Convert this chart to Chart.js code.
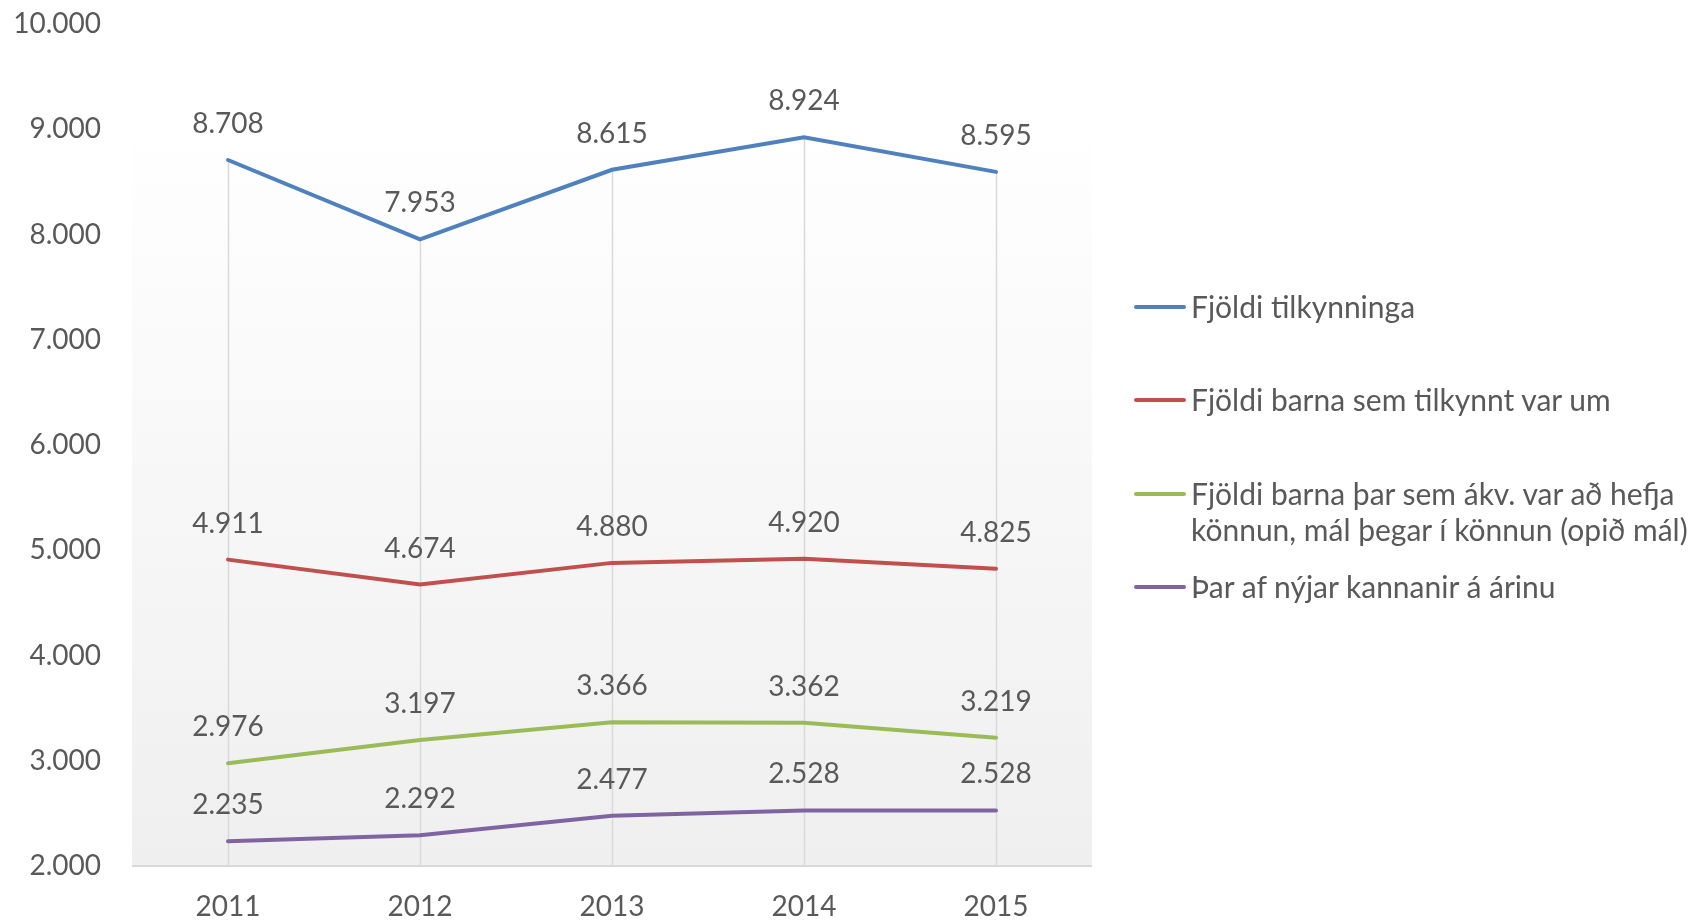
<!DOCTYPE html>
<html>
<head>
<meta charset="utf-8">
<script src="https://cdn.jsdelivr.net/npm/chart.js@4.4.0/dist/chart.umd.min.js"></script>
<style>
    html, body { margin: 0; padding: 0; background: #fff; }
    #wrap { position: relative; width: 1698px; height: 920px; }
    #myChart { position: absolute; left: 0; top: 0; }
    #legend { position: absolute; left: 1134px; top: 0; font-family: Lato, sans-serif; font-size: 30px; color: #595959; }
    .item { position: absolute; left: 0; white-space: nowrap; line-height: 36px; }
    .item span.swatch { position: absolute; left: 0; width: 52px; height: 4px; border-radius: 2px; }
    .item div { position: absolute; left: 57px; }
</style>
</head>
<body>
<div id="wrap">
    <canvas id="myChart" width="1698" height="920"></canvas>
    <div id="legend"></div>
</div>
<script>
    const years = ['2011', '2012', '2013', '2014', '2015'];

    const tilkynningar = [8708, 7953, 8615, 8924, 8595];
    const bornTilkynnt = [4911, 4674, 4880, 4920, 4825];
    const bornKonnun = [2976, 3197, 3366, 3362, 3219];
    const nyjarKannanir = [2235, 2292, 2477, 2528, 2528];

    const seriesNames = [
        'Fjöldi tilkynninga',
        'Fjöldi barna sem tilkynnt var um',
        'Fjöldi barna þar sem ákv. var að hefja\nkönnun, mál þegar í könnun (opið mál)',
        'Þar af nýjar kannanir á árinu'
    ];
    const seriesColors = ['#4F81BD', '#C0504D', '#9BBB59', '#8064A2'];
    const legendTops = [288, 381, 475, 568];

    const yMin = 2000, yMax = 10000, yStep = 1000;

    function fmt(v) {
        return v.toLocaleString('de-DE');
    }

    // plot area background + drop lines
    const plotBg = {
        id: 'plotBg',
        beforeDatasetsDraw: function (chart) {
            const ctx = chart.ctx;
            const a = chart.chartArea;
            const top = a.top + 96;
            ctx.save();
            const g = ctx.createLinearGradient(0, top, 0, a.bottom);
            g.addColorStop(0, '#ffffff');
            g.addColorStop(1, '#efefef');
            ctx.fillStyle = g;
            ctx.fillRect(a.left, top, a.right - a.left, a.bottom - top);

            const meta0 = chart.getDatasetMeta(0);
            ctx.strokeStyle = '#d9d9d9';
            ctx.lineWidth = 1.5;
            meta0.data.forEach(function (pt) {
                ctx.beginPath();
                ctx.moveTo(Math.round(pt.x) + 0.5, pt.y);
                ctx.lineTo(Math.round(pt.x) + 0.5, a.bottom);
                ctx.stroke();
            });

            ctx.strokeStyle = '#d9d9d9';
            ctx.lineWidth = 2;
            ctx.beginPath();
            ctx.moveTo(a.left, a.bottom);
            ctx.lineTo(a.right, a.bottom);
            ctx.stroke();
            ctx.restore();
        }
    };

    // value labels above each point
    const valueLabels = {
        id: 'valueLabels',
        afterDatasetsDraw: function (chart) {
            const ctx = chart.ctx;
            ctx.save();
            ctx.font = '28px Lato';
            ctx.fillStyle = '#595959';
            ctx.textAlign = 'center';
            ctx.textBaseline = 'alphabetic';
            chart.data.datasets.forEach(function (ds, i) {
                chart.getDatasetMeta(i).data.forEach(function (pt, j) {
                    ctx.fillText(fmt(ds.data[j]), pt.x, pt.y - 27);
                });
            });
            ctx.restore();
        }
    };

    const allSeries = [tilkynningar, bornTilkynnt, bornKonnun, nyjarKannanir];

    const chart = new Chart(document.getElementById('myChart'), {
        type: 'line',
        data: {
            labels: years,
            datasets: allSeries.map(function (d, i) {
                return {
                    label: seriesNames[i],
                    data: d,
                    borderColor: seriesColors[i],
                    backgroundColor: seriesColors[i],
                    borderWidth: 4,
                    pointRadius: 0,
                    tension: 0,
                    borderCapStyle: 'round',
                    fill: false
                };
            })
        },
        plugins: [plotBg, valueLabels],
        options: {
            responsive: false,
            animation: false,
            layout: { padding: { top: 24, right: 606, left: 0, bottom: 0 } },
            plugins: {
                legend: { display: false },
                tooltip: { enabled: false }
            },
            scales: {
                x: {
                    offset: true,
                    grid: { display: false, drawTicks: false },
                    border: { display: false },
                    ticks: {
                        color: '#595959',
                        font: { family: 'Lato', size: 28 },
                        padding: 24,
                        maxRotation: 0
                    },
                    afterFit: function (scale) { scale.height = 54; }
                },
                y: {
                    min: yMin,
                    max: yMax,
                    // tick marks hidden, tickLength only keeps the labels away from the plot
                    grid: { display: false, drawTicks: true, tickLength: 31 },
                    border: { display: false },
                    ticks: {
                        stepSize: yStep,
                        color: '#595959',
                        font: { family: 'Lato', size: 28 },
                        padding: 0,
                        callback: function (v) { return fmt(v); }
                    },
                    afterFit: function (scale) { scale.width = 132; }
                }
            }
        }
    });

    // html legend built from the chart datasets
    const legendEl = document.getElementById('legend');
    chart.data.datasets.forEach(function (ds, i) {
        const item = document.createElement('div');
        item.className = 'item';
        item.style.top = legendTops[i] + 'px';
        const sw = document.createElement('span');
        sw.className = 'swatch';
        sw.style.background = ds.borderColor;
        sw.style.top = '17px';
        const txt = document.createElement('div');
        txt.innerHTML = ds.label.split('\n').join('<br>');
        item.appendChild(sw);
        item.appendChild(txt);
        legendEl.appendChild(item);
    });
</script>
</body>
</html>
